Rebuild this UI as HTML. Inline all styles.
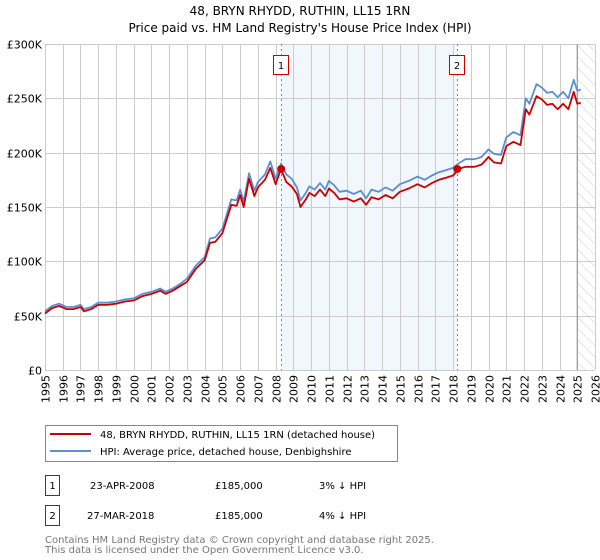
<!DOCTYPE html>
<html><head><meta charset="utf-8"><style>
body{margin:0;background:#fff;}
svg{display:block;font-family:"DejaVu Sans","Liberation Sans",sans-serif;}
</style></head><body>
<svg id="c" width="600" height="560" viewBox="0 0 600 560">
<text x="300" y="15" text-anchor="middle" font-size="12" fill="#000">48, BRYN RHYDD, RUTHIN, LL15 1RN</text>
<text x="300" y="32" text-anchor="middle" font-size="12" fill="#000">Price paid vs. HM Land Registry's House Price Index (HPI)</text>
<defs><pattern id="hatch" width="8" height="8" patternUnits="userSpaceOnUse" patternTransform="rotate(-45)"><line x1="0" y1="0" x2="0" y2="8" stroke="#ccc" stroke-width="1"/></pattern></defs>
<g id="plot"></g>
<g>
<rect x="45.5" y="425.5" width="352" height="36" fill="#fff" stroke="#888"/>
<line x1="50" y1="434" x2="91" y2="434" stroke="#cc0000" stroke-width="2"/>
<text x="100" y="438" font-size="10">48, BRYN RHYDD, RUTHIN, LL15 1RN (detached house)</text>
<line x1="50" y1="451" x2="91" y2="451" stroke="#5b8fd4" stroke-width="2"/>
<text x="100" y="455" font-size="10">HPI: Average price, detached house, Denbighshire</text>
</g>
<g font-size="10">
<rect x="45.5" y="475.5" width="14" height="20" fill="#fff" stroke="#cc0000"/>
<text x="52.5" y="489" text-anchor="middle">1</text>
<text x="90" y="489">23-APR-2008</text>
<text x="215" y="489">£185,000</text>
<text x="319" y="489">3% ↓ HPI</text>
<rect x="45.5" y="505.5" width="14" height="20" fill="#fff" stroke="#cc0000"/>
<text x="52.5" y="519" text-anchor="middle">2</text>
<text x="87" y="519">27-MAR-2018</text>
<text x="215" y="519">£185,000</text>
<text x="319" y="519">4% ↓ HPI</text>
</g>
<text x="45" y="543" font-size="10" fill="#777">Contains HM Land Registry data © Crown copyright and database right 2025.</text>
<text x="45" y="553" font-size="10" fill="#777">This data is licensed under the Open Government Licence v3.0.</text>
</svg>
<script>
const dates=[1995.0,1995.4,1995.8,1996.2,1996.6,1997.0,1997.2,1997.6,1998.0,1998.5,1999.0,1999.5,2000.0,2000.5,2001.0,2001.5,2001.8,2002.2,2002.6,2003.0,2003.5,2004.0,2004.3,2004.6,2005.0,2005.5,2005.8,2006.0,2006.2,2006.5,2006.8,2007.0,2007.4,2007.7,2008.0,2008.3,2008.6,2008.9,2009.2,2009.4,2009.7,2009.9,2010.2,2010.5,2010.8,2011.0,2011.3,2011.6,2012.0,2012.4,2012.8,2013.1,2013.4,2013.8,2014.2,2014.6,2015.0,2015.5,2016.0,2016.4,2016.8,2017.2,2017.6,2018.0,2018.3,2018.7,2019.2,2019.6,2020.0,2020.3,2020.7,2021.0,2021.4,2021.8,2022.1,2022.3,2022.7,2023.0,2023.3,2023.6,2023.9,2024.2,2024.5,2024.8,2025.0,2025.2];
const hpiValues=[54,59,61,58,58,60,56,58,62,62,63,65,66,70,72,75,72,75,79,84,96,104,121,122,130,157,156,166,155,181,165,173,180,192,176,190,180,176,168,156,163,169,166,172,166,174,170,164,165,162,165,158,166,164,168,165,171,174,178,175,179,182,184,186,190,194,194,196,203,199,198,214,219,216,250,245,263,260,255,256,251,256,250,267,257,258];
const priceValues=[52,57,59,56,56,58,54,56,60,60,61,63,64,68,70,73,70,73,77,81,93,101,117,118,126,152,151,161,150,176,160,168,175,186,171,185,173,169,162,150,157,163,160,166,160,167,163,157,158,155,158,152,159,157,161,158,164,167,171,168,172,175,177,179,185,187,187,189,196,191,190,206,210,207,240,235,252,249,244,245,240,245,240,256,245,246];
const yTicks=[0,50,100,150,200,250,300];
const yTickLabels=["£0","£50K","£100K","£150K","£200K","£250K","£300K"];
const xTicks=[1995,1996,1997,1998,1999,2000,2001,2002,2003,2004,2005,2006,2007,2008,2009,2010,2011,2012,2013,2014,2015,2016,2017,2018,2019,2020,2021,2022,2023,2024,2025,2026];
const saleDates=[2008.31,2018.24];
const salePrices=[185,185];
const saleLabels=["1","2"];
const dataEnd=2025.0;

const X0=45,X1=595,Y0=370,Y1=44,xmin=1995,xmax=2026,ymax=300;
const xs=d=>X0+(d-xmin)/(xmax-xmin)*(X1-X0);
const ys=v=>Y0-v/ymax*(Y0-Y1);
const NS="http://www.w3.org/2000/svg";
const g=document.getElementById('plot');
function mk(t,a){const e=document.createElementNS(NS,t);for(const k in a)e.setAttribute(k,a[k]);g.appendChild(e);return e;}

let e=mk('rect',{x:X0,y:Y1,width:X1-X0,height:Y0-Y1,fill:'#fff'});


e=mk('rect',{x:xs(saleDates[0]),y:Y1,width:xs(saleDates[1])-xs(saleDates[0]),height:Y0-Y1,fill:'#f2f6fd'});


e=mk('rect',{x:xs(dataEnd),y:Y1,width:X1-xs(dataEnd),height:Y0-Y1,fill:'url(#hatch)'});



xTicks.forEach(t=>{
  const x=Math.round(xs(t))+0.5;
  let l=mk('line',{x1:x,y1:Y1,x2:x,y2:Y0,stroke:'#ccc','stroke-width':1});
  
  
  let tx=mk('text',{x:0,y:0,'font-size':11,'text-anchor':'end',transform:`translate(${x+4},${Y0+5}) rotate(-90)`});
  tx.textContent=t;
  
  
});
yTicks.forEach((t,i)=>{
  const y=Math.round(ys(t))+0.5;
  let l=mk('line',{x1:X0,y1:y,x2:X1,y2:y,stroke:'#ccc','stroke-width':1});
  
  
  let tx=mk('text',{x:X0-3,y:y+4,'font-size':11,'text-anchor':'end'});
  tx.textContent=yTickLabels[i];
  
  
});
e=mk('line',{x1:xs(dataEnd),y1:Y1,x2:xs(dataEnd),y2:Y0,stroke:'#999','stroke-width':1.2});



function path(vals){return vals.map((v,i)=>(i?'L':'M')+xs(dates[i]).toFixed(1)+','+ys(v).toFixed(1)).join('');}
e=mk('path',{d:path(hpiValues),fill:'none',stroke:'#5b8fd4','stroke-width':1.8,'stroke-linejoin':'round'});


e=mk('path',{d:path(priceValues),fill:'none',stroke:'#cc0000','stroke-width':1.8,'stroke-linejoin':'round'});



saleDates.forEach((d,i)=>{
  const x=Math.round(xs(d))+0.5;
  let l=mk('line',{x1:x,y1:Y1,x2:x,y2:Y0,stroke:'#e06060','stroke-width':1,'stroke-dasharray':'2,3'});
  
  
  let r=mk('rect',{x:x-8,y:55.5,width:15,height:19,fill:'#fff',stroke:'#cc0000'});
  
  
  let t=mk('text',{x:x-0.5,y:69,'font-size':10,'text-anchor':'middle'});
  t.textContent=saleLabels[i];
  
  
  let c=mk('circle',{cx:xs(d),cy:ys(salePrices[i]),r:4,fill:'#cc0000'});
  
  
});
</script>
</body></html>
